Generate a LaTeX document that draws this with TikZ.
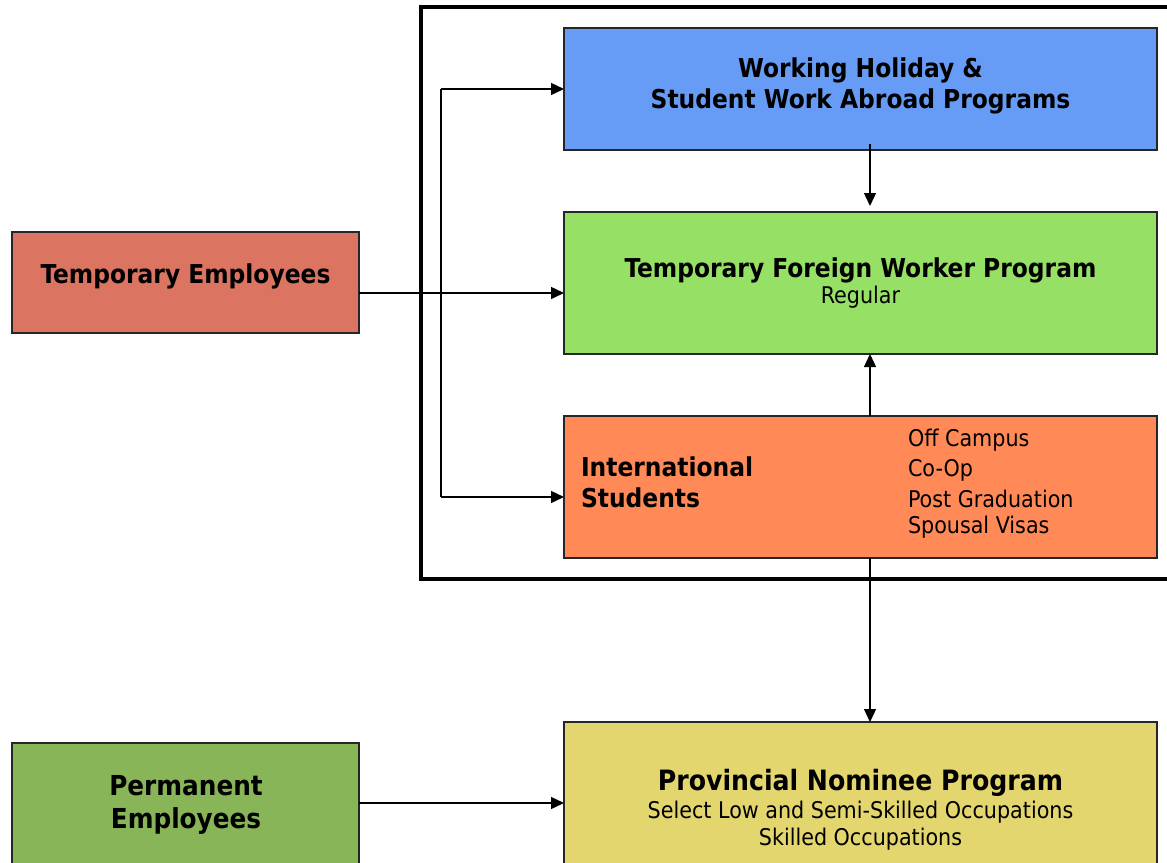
\documentclass[tikz,border=0pt]{standalone}
\usepackage{fontspec}
\setmainfont{DejaVu Sans Condensed}
\usetikzlibrary{arrows.meta}

\definecolor{blueprog}{HTML}{669CF6}
\definecolor{greenprog}{HTML}{97E066}
\definecolor{orangeprog}{HTML}{FF8957}
\definecolor{redemp}{HTML}{DC7462}
\definecolor{greenemp}{HTML}{88B558}
\definecolor{yellowprog}{HTML}{E4D66F}

\begin{document}
\begin{tikzpicture}[x=1pt,y=-1pt,
  box/.style={draw=black!85, line width=1.8pt, inner sep=0pt, outer sep=0pt,
              anchor=north west},
  frame/.style={draw=black, line width=3.5pt, inner sep=0pt, outer sep=0pt,
              anchor=north west},
  link/.style={draw=black, line width=1.4pt, -{Triangle[length=13pt,width=12pt]}},
  plain/.style={draw=black, line width=1.4pt},
  ttl/.style={inner sep=0pt, outer sep=0pt, anchor=base,
              font=\bfseries\fontsize{26}{31}\selectfont},
  bigttl/.style={inner sep=0pt, outer sep=0pt, anchor=base,
              font=\bfseries\fontsize{28}{33}\selectfont},
  sub/.style={inner sep=0pt, outer sep=0pt, anchor=base,
              font=\fontsize{23}{28}\selectfont}]

\useasboundingbox (0,0) rectangle (1167,862);
\clip (0,0) rectangle (1167,862);

% enclosing frame of the temporary programs
\node[frame, minimum width=800pt, minimum height=572pt] (frame) at (421,7) {};

% program boxes
\node[box, fill=blueprog, minimum width=593pt, minimum height=122pt] (whp) at (564,28) {};
\node[box, fill=greenprog, minimum width=593pt, minimum height=142pt] (tfw) at (564,212) {};
\node[box, fill=orangeprog, minimum width=593pt, minimum height=142pt] (isp) at (564,416) {};
\node[box, fill=yellowprog, minimum width=593pt, minimum height=174pt] (pnp) at (564,722) {};

% employee boxes
\node[box, fill=redemp, minimum width=347pt, minimum height=101pt] (temp) at (12,232) {};
\node[box, fill=greenemp, minimum width=347pt, minimum height=125pt] (perm) at (12,743) {};

% box texts
\node[ttl] (whp1) at (860.5,77) {Working Holiday \&};
\node[ttl] (whp2) at (860.5,108) {Student Work Abroad Programs};
\node[ttl] (tfw1) at (860.5,277) {Temporary Foreign Worker Program};
\node[sub] (tfw2) at (860.5,303) {Regular};
\node[ttl] (temp1) at (185.5,283) {Temporary Employees};
\node[bigttl, font=\bfseries\fontsize{27.5}{33}\selectfont] (perm1) at (186,795) {Permanent};
\node[bigttl, font=\bfseries\fontsize{27.5}{33}\selectfont] (perm2) at (186,828) {Employees};
\node[bigttl] (pnp1) at (860.5,790) {Provincial Nominee Program};
\node[sub] (pnp2) at (860.5,818) {Select Low and Semi-Skilled Occupations};
\node[sub] (pnp3) at (860.5,845) {Skilled Occupations};

% international students texts
\node[ttl, anchor=base west] (ist1) at (581,476) {International};
\node[ttl, anchor=base west] (ist2) at (581,507) {Students};
\node[sub, anchor=base west] (offc) at (908,446) {Off Campus};
\node[sub, anchor=base west] (coop) at (908,476) {Co-Op};
\node[sub, anchor=base west] (postg) at (908,507) {Post Graduation};
\node[sub, anchor=base west] (spous) at (908,533) {Spousal Visas};

% routing points
\coordinate (spine) at (870,0);
\coordinate (bt) at (441,89);
\coordinate (bb) at (441,497);
\coordinate (trow) at (0,293);
\coordinate (prow) at (0,803);

% connectors
\draw[link] (temp.east |- trow) -- (tfw.west |- trow);
\draw[plain] (bt) -- (bb);
\draw[link] (bt) -- (whp.west |- bt);
\draw[link] (bb) -- (isp.west |- bb);
\draw[link] ([yshift=6pt]whp.south -| spine) -- ([yshift=6pt]tfw.north -| spine);
\draw[link] (isp.north -| spine) -- (tfw.south -| spine);
\draw[link] (isp.south -| spine) -- (pnp.north -| spine);
\draw[link] (perm.east |- prow) -- (pnp.west |- prow);
\end{tikzpicture}
\end{document}
